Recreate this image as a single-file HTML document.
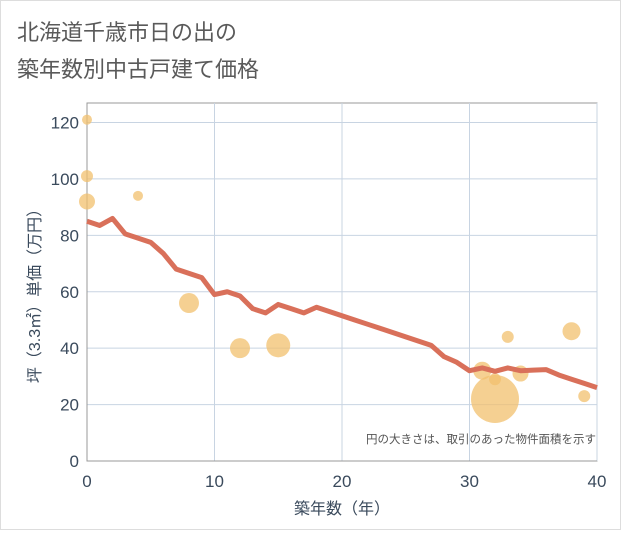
<!DOCTYPE html>
<html><head><meta charset="utf-8"><style>
body{margin:0;background:#fff;font-family:"Liberation Sans","Noto Sans CJK JP",sans-serif}
</style></head><body>
<svg width="621" height="530" xmlns="http://www.w3.org/2000/svg" font-family="Liberation Sans, Noto Sans CJK JP, sans-serif">
<rect x="0.5" y="0.5" width="620" height="529" fill="#fff" stroke="#ddd"/>
<text x="17" y="40" font-size="22" fill="#5a5a5a">北海道千歳市日の出の</text>
<text x="17" y="77" font-size="22" fill="#5a5a5a">築年数別中古戸建て価格</text>
<g id="grid"></g>
<g id="marks"></g>
<text x="596" y="443" font-size="11.5" fill="#555" text-anchor="end">円の大きさは、取引のあった物件面積を示す</text>
<text x="342" y="514" font-size="16" fill="#3a4a5c" text-anchor="middle">築年数（年）</text>
<text transform="translate(40,292) rotate(-90)" font-size="16" fill="#3a4a5c" text-anchor="middle">坪（3.3㎡）単価（万円）</text>
</svg>
<script>
const xTicks=[0,10,20,30,40];
const yTicks=[0,20,40,60,80,100,120];
const lineX=[0,1,2,3,4,5,6,7,8,9,10,11,12,13,14,15,16,17,18,19,20,21,22,23,24,25,26,27,28,29,30,31,32,33,34,35,36,37,38,39,40];
const lineY=[85,83.5,86,80.5,79,77.5,73.5,68,66.5,65,59,60,58.5,54,52.5,55.5,54,52.5,54.5,53,51.5,50,48.5,47,45.5,44,42.5,41,37,35,32,33,31.8,33,32,32.2,32.4,30.5,29,27.5,26];
const bubX=[0,0,0,4,8,12,15,31,32,32,33,34,38,39];
const bubY=[121,101,92,94,56,40,41,32,29,22,44,31,46,23];
const bubR=[5,6,8,5,10,10,12,9,6,24,6,8,9,6];
const X0=87,X1=597,Y0=461,Y1=122.5;
const sx=v=>X0+(v-0)/40*(X1-X0);
const sy=v=>Y0-(v/120)*(Y0-Y1);
const NS="http://www.w3.org/2000/svg";
const g=document.getElementById('grid'),m=document.getElementById('marks');
function mk(tag,attrs,parent){const e=document.createElementNS(NS,tag);for(const k in attrs)e.setAttribute(k,attrs[k]);parent.appendChild(e);return e;}
mk('rect',{x:X0,y:103,width:X1-X0,height:Y0-103,fill:'none',stroke:'#999','stroke-width':1},g);
yTicks.forEach(t=>{
 const l=mk('line',{x1:X0,x2:X1,y1:sy(t),y2:sy(t),stroke:'#c8d4e2'},g);
 
 
 const tx=mk('text',{x:X0-8,y:sy(t)+6,'font-size':17,fill:'#3a4a5c','text-anchor':'end'},g);
 tx.textContent=t;
 
 
});
xTicks.forEach(t=>{
 const l=mk('line',{x1:sx(t),x2:sx(t),y1:103,y2:Y0,stroke:'#c8d4e2'},g);
 
 
 const tx=mk('text',{x:sx(t),y:Y0+26,'font-size':17,fill:'#3a4a5c','text-anchor':'middle'},g);
 tx.textContent=t;
 
 
});
mk('line',{x1:X0,x2:X1,y1:Y0,y2:Y0,stroke:'#999'},g);
mk('line',{x1:X0,x2:X0,y1:103,y2:Y0,stroke:'#999'},g);
bubX.forEach((x,i)=>{
 const c=mk('circle',{cx:sx(x),cy:sy(bubY[i]),r:bubR[i],fill:'#f2c06d','fill-opacity':0.75},m);
 
 
});
const p=mk('polyline',{points:lineX.map((x,i)=>sx(x)+','+sy(lineY[i])).join(' '),fill:'none',stroke:'#d9705a','stroke-width':5,'stroke-linejoin':'round'},m);


</script>
</body></html>
